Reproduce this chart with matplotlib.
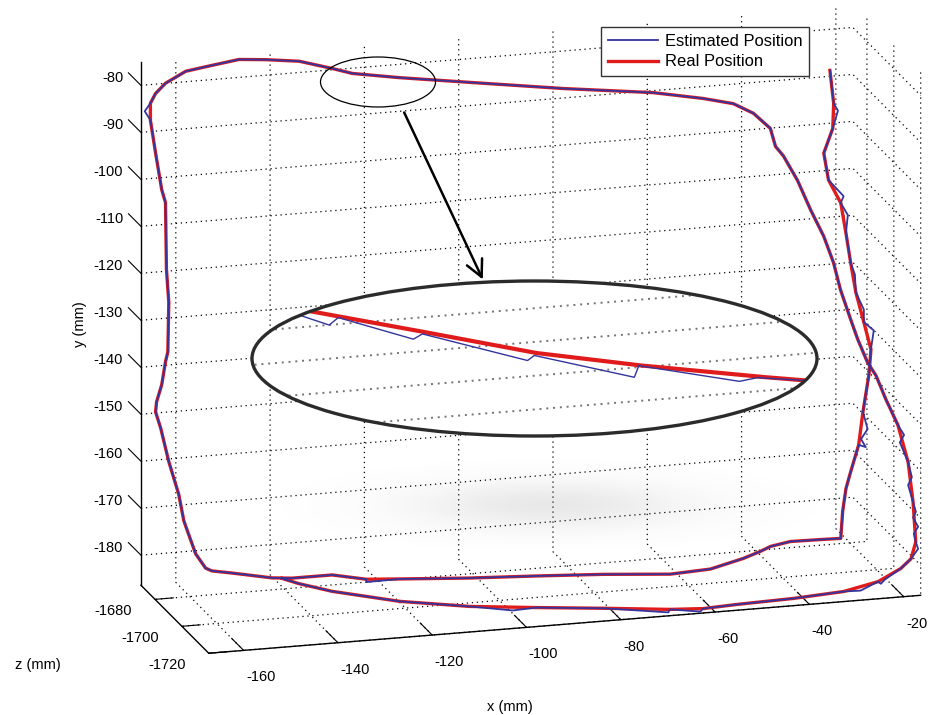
import numpy as np
import matplotlib
matplotlib.use('Agg')
import matplotlib.pyplot as plt
from matplotlib.patches import Ellipse, FancyArrowPatch

# trajectory in mm (x, y, z), real path
real_x = [-27.1, -26.3, -26.5, -28.4, -27.4, -24.8, -23.7, -22.7, -21.6, -19.9,
          -18.4, -18.8, -20.1, -21.0, -22.7, -23.7, -24.4, -24.8, -29.1, -35.2,
          -39.4, -41.3, -44.9, -51.6, -59.8, -73.5, -87.3, -101.0, -115.3, -122.0,
          -129.0, -137.2, -141.2, -149.1, -153.1, -154.4, -156.5, -158.0, -159.0, -160.1,
          -162.2, -163.9, -165.0, -164.8, -163.7, -162.9, -162.4, -162.2, -162.7, -162.9,
          -163.7, -165.0, -166.1, -166.1, -165.0, -162.9, -158.6, -153.4, -147.6, -142.2,
          -135.4, -128.7, -124.7, -115.0, -100.7, -81.7, -63.5, -53.4, -47.6, -43.6,
          -40.3, -39.5, -37.8, -35.4, -32.9, -30.7, -28.9, -27.7, -26.1, -24.9,
          -23.1, -21.6, -19.8, -17.8, -16.5, -16.3, -16.3, -17.3, -19.5, -24.3,
          -31.6, -42.2, -54.1, -61.4, -68.4, -82.6, -96.7, -110.9, -125.8, -140.1,
          -147.1, -150.7]
real_y = [-82.4, -89.5, -94.8, -99.9, -105.7, -110.8, -117.3, -123.7, -130.1, -136.6,
          -142.5, -147.7, -155.7, -162.6, -168.2, -171.7, -176.5, -182.2, -182.1, -182.3,
          -183.0, -184.2, -185.4, -187.4, -188.1, -187.6, -187.1, -187.0, -186.6, -186.4,
          -185.2, -185.5, -185.4, -184.3, -183.8, -183.1, -179.9, -175.6, -172.7, -166.9,
          -159.8, -152.6, -149.0, -146.9, -143.3, -138.5, -136.4, -125.9, -118.8, -104.6,
          -101.8, -93.9, -86.8, -83.2, -81.2, -79.2, -77.0, -75.9, -75.1, -75.3,
          -75.9, -77.7, -78.8, -80.2, -81.8, -83.8, -85.3, -86.8, -87.8, -89.9,
          -93.1, -96.7, -98.9, -103.7, -109.9, -115.1, -120.6, -126.2, -132.1, -136.1,
          -140.9, -143.5, -148.4, -153.5, -160.6, -168.3, -176.2, -179.7, -181.6, -184.0,
          -185.5, -186.1, -186.4, -186.7, -186.3, -184.9, -183.6, -182.2, -179.9, -176.6,
          -174.4, -173.0]
real_z = [-1690, -1690, -1690, -1690, -1690, -1690, -1690, -1690, -1690, -1690,
          -1690, -1690, -1690, -1690, -1690, -1690, -1690, -1690, -1690, -1689,
          -1689, -1688, -1688, -1687, -1686, -1684, -1683, -1681, -1679, -1678,
          -1677, -1676, -1675, -1673, -1672, -1672, -1672, -1672, -1672, -1672,
          -1672, -1672, -1672, -1672, -1672, -1672, -1672, -1672, -1672, -1672,
          -1672, -1672, -1672, -1672, -1672, -1672, -1672, -1673, -1673, -1674,
          -1675, -1676, -1677, -1678, -1680, -1683, -1686, -1688, -1690, -1691,
          -1692, -1693, -1693, -1695, -1696, -1698, -1699, -1700, -1702, -1703,
          -1704, -1705, -1706, -1708, -1711, -1714, -1716, -1716, -1716, -1716,
          -1716, -1716, -1716, -1716, -1716, -1716, -1716, -1716, -1716, -1716,
          -1716, -1716]

# estimated path
est_x = [-27.1, -26.3, -25.4, -26.5, -28.4, -27.4, -24.2, -24.8, -23.3, -23.7,
         -22.7, -21.8, -21.6, -19.9, -19.9, -17.8, -18.4, -18.8, -20.1, -19.1,
         -20.5, -19.5, -21.0, -22.7, -23.7, -24.4, -24.8, -29.1, -35.2, -39.4,
         -41.3, -44.9, -51.6, -59.8, -73.5, -87.3, -101.0, -115.3, -122.0, -122.0,
         -129.0, -137.2, -141.2, -149.1, -153.1, -154.4, -156.5, -158.0, -159.0, -160.1,
         -162.2, -163.9, -165.0, -164.8, -163.7, -162.9, -162.4, -162.2, -162.7, -162.9,
         -163.7, -165.0, -166.1, -167.3, -166.1, -165.0, -162.9, -158.6, -153.4, -147.6,
         -142.2, -135.4, -128.7, -124.7, -115.0, -100.7, -81.7, -63.5, -53.4, -47.6,
         -43.6, -40.3, -39.5, -37.8, -35.4, -32.9, -30.7, -28.9, -27.7, -26.1,
         -24.9, -23.1, -21.6, -19.8, -17.8, -16.5, -17.4, -16.5, -15.7, -16.5,
         -16.3, -15.7, -16.3, -15.8, -16.7, -16.3, -15.8, -17.3, -19.5, -22.9,
         -23.7, -24.3, -28.0, -31.6, -42.2, -54.1, -61.4, -62.0, -68.4, -68.8,
         -82.6, -96.7, -101.8, -110.9, -125.8, -140.1, -147.1, -150.7]
est_y = [-82.4, -89.5, -91.1, -94.8, -99.9, -105.7, -109.4, -110.8, -113.5, -117.3,
         -123.7, -126.3, -130.1, -133.9, -136.6, -138.5, -142.5, -147.7, -155.7, -159.4,
         -161.4, -163.2, -162.6, -168.2, -171.7, -176.5, -182.2, -182.1, -182.3, -183.0,
         -184.2, -185.4, -187.4, -188.1, -187.6, -187.1, -187.0, -186.6, -187.0, -186.4,
         -185.2, -185.5, -185.4, -184.3, -183.8, -183.1, -179.9, -175.6, -172.7, -166.9,
         -159.8, -152.6, -149.0, -146.9, -143.3, -138.5, -136.4, -125.9, -118.8, -104.6,
         -101.8, -93.9, -86.8, -84.8, -83.2, -81.2, -79.2, -77.0, -75.9, -75.1,
         -75.3, -75.9, -77.7, -78.8, -80.2, -81.8, -83.8, -85.3, -86.8, -87.8,
         -89.9, -93.1, -96.7, -98.9, -103.7, -109.9, -115.1, -120.6, -126.2, -132.1,
         -136.1, -140.9, -143.5, -148.4, -153.5, -155.7, -157.2, -160.6, -163.9, -165.5,
         -168.3, -170.4, -171.6, -173.0, -174.4, -176.2, -177.7, -179.7, -181.6, -183.7,
         -184.5, -184.0, -185.6, -185.5, -186.1, -186.4, -186.7, -187.3, -186.3, -186.9,
         -184.9, -183.6, -183.8, -182.2, -179.9, -176.6, -174.4, -173.0]
est_z = [-1690, -1690, -1690, -1690, -1690, -1690, -1690, -1690, -1690, -1690,
         -1690, -1690, -1690, -1690, -1690, -1690, -1690, -1690, -1690, -1690,
         -1690, -1690, -1690, -1690, -1690, -1690, -1690, -1690, -1689, -1689,
         -1688, -1688, -1687, -1686, -1684, -1683, -1681, -1679, -1678, -1678,
         -1677, -1676, -1675, -1673, -1672, -1672, -1672, -1672, -1672, -1672,
         -1672, -1672, -1672, -1672, -1672, -1672, -1672, -1672, -1672, -1672,
         -1672, -1672, -1672, -1672, -1672, -1672, -1672, -1672, -1673, -1673,
         -1674, -1675, -1676, -1677, -1678, -1680, -1683, -1686, -1688, -1690,
         -1691, -1692, -1693, -1693, -1695, -1696, -1698, -1699, -1700, -1702,
         -1703, -1704, -1705, -1706, -1708, -1708, -1708, -1711, -1711, -1711,
         -1714, -1714, -1714, -1716, -1716, -1716, -1716, -1716, -1716, -1716,
         -1716, -1716, -1716, -1716, -1716, -1716, -1716, -1716, -1716, -1716,
         -1716, -1716, -1716, -1716, -1716, -1716, -1716, -1716]

# magnified stretch of the top edge
zoom_real_x = [-129.0, -127.0, -122.0, -117.0, -112.4, -107.0, -105.0]
zoom_real_y = [-78.4, -78.9, -80.2, -81.5, -82.4, -83.3, -83.6]
zoom_real_z = [-1677.6, -1677.7, -1677.8, -1678.0, -1678.1, -1678.3, -1678.4]
zoom_est_x = [-129.0, -127.3, -126.1, -125.7, -122.4, -122.0, -117.4, -117.1, -112.7, -112.5, -108.1, -107.3, -105.0]
zoom_est_y = [-78.5, -79.1, -79.6, -79.3, -80.5, -80.3, -81.8, -81.6, -82.9, -82.4, -83.4, -83.3, -83.6]
zoom_est_z = [-1677.6, -1677.7, -1677.7, -1677.7, -1677.8, -1677.8, -1678.0, -1678.0, -1678.1, -1678.1, -1678.3, -1678.3, -1678.4]

x_ticks = [-160, -140, -120, -100, -80, -60, -40, -20]
y_ticks = [-180, -170, -160, -150, -140, -130, -120, -110, -100, -90, -80]
z_ticks = [-1720, -1700, -1680]
zoom_y_ticks = [-88.5, -87.0, -85.5, -84.0, -82.5, -81.0, -79.5, -78.0, -76.5, -75.0]

RED = '#e01b1b'
BLUE = '#34349e'

plt.rcParams['font.family'] = ['Liberation Sans', 'DejaVu Sans']
plt.rcParams['axes.unicode_minus'] = False
plt.rcParams['grid.linestyle'] = (0, (1, 3))
plt.rcParams['grid.color'] = 'black'
plt.rcParams['grid.linewidth'] = 0.9

W, H = 941, 715
fig = plt.figure(figsize=(W / 100, H / 100), dpi=100)

# main view: data y is drawn on the vertical axis, z goes into the screen
ax = fig.add_axes([0.0538, 0.0266, 1, 1], projection='3d')
ax.set_proj_type('ortho')
ax.view_init(elev=16.6, azim=-105.9)
real_line, = ax.plot(real_x, real_z, real_y, color=RED, lw=2.4)
est_line, = ax.plot(est_x, est_z, est_y, color=BLUE, lw=1.3)
for ln in (real_line, est_line):
    ln.set_clip_on(False)
ax.set_xlim(-167.4, -16.4, view_margin=0)
ax.set_ylim(-1720, -1669.5, view_margin=0)
ax.set_zlim(-186.4, -75.1, view_margin=0)
ax.set_box_aspect((151, 50.5, 111.3), zoom=1.293)
ax.set_xticks(x_ticks)
ax.set_yticks(z_ticks)
ax.set_zticks(y_ticks)
ax.tick_params(labelsize=10.5)
ax.tick_params(axis='x', pad=1.1)
ax.tick_params(axis='y', pad=0.8)
ax.tick_params(axis='z', pad=-1.9)
for a, ha, va in ((ax.xaxis, 'left', 'top'), (ax.yaxis, 'right', 'bottom'), (ax.zaxis, 'right', 'bottom')):
    a.set_pane_color((1, 1, 1, 0))
    a.line.set_linewidth(1.0)
    for t in a.get_major_ticks():
        t.label1.set_horizontalalignment(ha)
        t.label1.set_verticalalignment(va)
ax.zaxis._get_tickdir = lambda position: 1
ax.xaxis._axinfo['tick'].update(inward_factor=0, outward_factor=2.2)
ax.yaxis._axinfo['tick'].update(inward_factor=0, outward_factor=0.32)
ax.zaxis._axinfo['tick'].update(inward_factor=0, outward_factor=2.3)

fig.text(80 / W, 1 - 324 / H, 'y (mm)', rotation=90, ha='center', va='center', fontsize=10.5)
fig.text(38 / W, 1 - 665 / H, 'z (mm)', ha='center', va='center', fontsize=10.5)
fig.text(510 / W, 1 - 707 / H, 'x (mm)', ha='center', va='center', fontsize=10.5)

leg = fig.legend([est_line, real_line], ['Estimated Position', 'Real Position'],
                 loc='upper left', bbox_to_anchor=(601 / W, 1 - 27 / H),
                 fancybox=False, edgecolor='#333333', framealpha=1, fontsize=11.9,
                 handlelength=3.05, borderpad=0.4, labelspacing=0.35, handletextpad=0.4,
                 borderaxespad=0)
leg.get_frame().set_linewidth(1.0)

# pixel overlay: soft shadow and white backing of the magnifier
bg = fig.add_axes([0, 0, 1, 1], zorder=1)
bg.axis('off')
gx, gy = np.meshgrid(np.linspace(-1, 1, 240), np.linspace(-1, 1, 80))
haze = np.zeros((80, 240, 4))
haze[..., :3] = 0.45
haze[..., 3] = 0.16 * np.exp(-(gx / 0.5) ** 2 - (gy / 0.45) ** 2)
bg.imshow(haze, extent=(270, 830, 560, 450), interpolation='bilinear', aspect='auto')
bg.add_patch(Ellipse((534.5, 358.5), 565, 155, facecolor='white', edgecolor='none'))
bg.set_xlim(0, W)
bg.set_ylim(H, 0)

# magnifier: same view, much closer in
ins = fig.add_axes([252 / W, 1 - 436 / H, 565 / W, 155 / H], projection='3d', zorder=2)
ins.set_proj_type('ortho')
ins.view_init(elev=16.6, azim=-105.9)
ins.set_facecolor((1, 1, 1, 0))
ins.set_axis_off()
clip = Ellipse((534.5, 358.5), 563, 153, transform=bg.transData)
zoom_lines = []
for t in zoom_y_ticks:
    gl, = ins.plot([-137, -97], [-1678, -1678], [t, t], color='0.45', lw=1.4, ls=(0, (1, 2.5)))
    zoom_lines.append(gl)
l1, = ins.plot(zoom_real_x, zoom_real_z, zoom_real_y, color=RED, lw=3.0)
l2, = ins.plot(zoom_est_x, zoom_est_z, zoom_est_y, color=BLUE, lw=1.0)
for ln in zoom_lines + [l1, l2]:
    ln.set_clip_box(None)
    ln.set_clip_path(clip)
ins.set_xlim(-137, -97, view_margin=0)
ins.set_ylim(-1688, -1668, view_margin=0)
ins.set_zlim(-88.65, -74.65, view_margin=0)
ins.set_box_aspect((40, 20, 14), zoom=6.89)

fg = fig.add_axes([0, 0, 1, 1], zorder=3)
fg.set_xlim(0, W)
fg.set_ylim(H, 0)
fg.axis('off')
fg.add_patch(Ellipse((534.5, 358.5), 565, 155, facecolor='none', edgecolor='#2b2b2b', lw=2.4))
fg.add_patch(Ellipse((378, 82), 115, 50, facecolor='none', edgecolor='black', lw=0.9))
fg.add_patch(FancyArrowPatch((403, 110), (484, 282), arrowstyle='->,head_length=0.6,head_width=0.3',
                             mutation_scale=20, lw=1.8, color='black'))

fig.savefig('out.png')
